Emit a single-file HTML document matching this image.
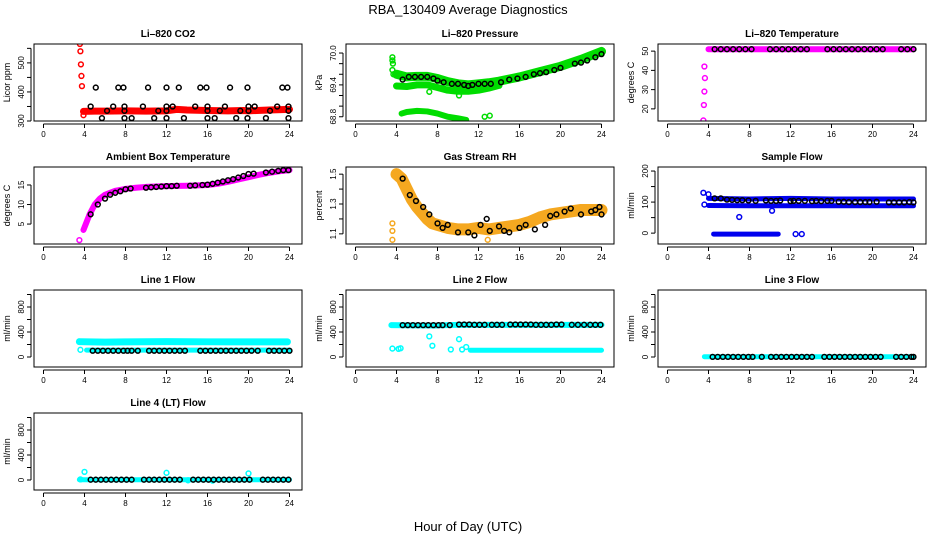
<!DOCTYPE html>
<html><head><meta charset="utf-8"><style>
html,body{margin:0;padding:0;background:#fff;}
svg{display:block;font-family:"Liberation Sans",sans-serif;}
</style></head><body>
<svg id="chart" width="936" height="540" viewBox="0 0 936 540">
<text x="468" y="14" text-anchor="middle" font-size="13">RBA_130409  Average Diagnostics</text>
<text x="468" y="531" text-anchor="middle" font-size="13">Hour of Day (UTC)</text>
</svg>
<script>
// ---- data arrays ----
const xTicks = [0,4,8,12,16,20,24];
// CO2
const co2BandT = [3.9,5,6,8,10,12,13,14,16,18,19.5,20,22,24];
const co2BandV = [333,334,334,335,334,335,340,338,336,335,336,335,338,340];
const co2OutT = [3.55,3.6,3.65,3.7,3.75,3.9];
const co2OutV = [565,540,495,455,420,320];
const co2BlkT = [5.1,7.3,7.8,10.2,12.0,13.2,15.3,15.9,18.2,19.9,23.3,23.8,4.6,6.8,7.9,9.7,12.0,12.6,14.8,16.0,17.7,20.0,20.6,22.8,23.9,6.2,7.9,11.2,12.0,16.0,17.2,19.2,20.0,22.1,23.9,5.7,7.9,8.6,10.8,12.0,13.7,16.0,16.7,18.8,19.9,21.7,23.9];
const co2BlkV = [415,415,415,415,415,415,415,415,415,415,415,415,350,350,350,350,350,350,350,350,350,350,350,350,350,335,335,335,335,335,335,335,335,335,335,310,310,310,310,310,310,310,310,310,310,310,310];
// Pressure
const pUpT = [4,5,6,7,8,9,10,11,12,13,14,16,18,20,22,24];
const pUpV = [69.6,69.55,69.56,69.56,69.52,69.46,69.42,69.4,69.42,69.44,69.47,69.55,69.65,69.75,69.88,70.03];
const pLoT = [4,5,6,7,8,9,10,11,12,13,14];
const pLoV = [69.38,69.37,69.4,69.4,69.35,69.3,69.28,69.28,69.3,69.34,69.39];
const pLowT = [4.5,5,6,7,8,9,10,10.8];
const pLowV = [68.86,68.89,68.91,68.9,68.86,68.8,68.77,68.74];
const pOutT = [3.6,3.6,3.65,3.6,3.7,7.2,10.1,12.6,13.1];
const pOutV = [69.92,69.86,69.8,69.68,69.6,69.27,69.2,68.8,68.82];
const pBlkT = [4.6,5.2,5.8,6.4,7,7.6,8,8.6,9.4,10,10.6,11,11.4,12,12.6,13.2,14.2,15,15.8,16.6,17.4,18,18.6,19.4,20,21.4,22,22.6,23.4,24];
const pBlkV = [69.5,69.55,69.55,69.55,69.55,69.52,69.48,69.45,69.42,69.42,69.4,69.38,69.4,69.42,69.42,69.42,69.45,69.5,69.52,69.55,69.6,69.62,69.64,69.68,69.72,69.8,69.82,69.86,69.92,69.98];
// Li-820 temperature
const tBandT = [4,24];
const tBandV = [51,51];
const tOutT = [3.6,3.65,3.6,3.55,3.5];
const tOutV = [42,36,29,22,14];
const tBlkT = [4.6,5.2,5.8,6.4,7,7.6,8.2,10,10.6,11.2,11.8,12.4,13,13.6,15.6,16.2,16.8,17.4,18,18.6,19.2,19.8,20.4,21,22.8,23.4,24];
const tBlkV = [51,51,51,51,51,51,51,51,51,51,51,51,51,51,51,51,51,51,51,51,51,51,51,51,51,51,51];
// Ambient box temperature
const aBandT = [3.9,4.2,4.5,5,5.5,6,7,8,9,10,12,14,16,17,18,19,20,21,22,23,24];
const aBandV = [3.5,5.5,7.5,10,11.5,12.5,13.5,14,14.3,14.5,14.7,14.8,15,15.3,15.8,16.4,17,17.6,18.1,18.5,18.8];
const aOutT = [3.5];
const aOutV = [0.9];
const aBlkT = [4.6,5.3,6,6.5,7,7.5,8,8.5,10,10.5,11,11.5,12,12.5,13,14.3,14.8,15.5,16,16.5,17,17.5,18,18.5,19,19.5,20,20.5,21.7,22.3,22.9,23.4,23.9];
const aBlkV = [7.5,10,11.5,12.5,13,13.4,13.9,14.1,14.3,14.4,14.5,14.6,14.7,14.7,14.8,14.8,14.9,15,15.1,15.3,15.6,15.9,16.2,16.5,16.9,17.3,17.8,17.9,18.2,18.4,18.6,18.8,18.8];
// Gas stream RH
const rhBandT = [4,4.5,5,5.5,6,6.5,7,7.5,8,9,10,11,12,13,14,15,16,17,18,19,20,21,22,23,24];
const rhBandV = [1.5,1.47,1.4,1.33,1.28,1.24,1.2,1.17,1.16,1.14,1.13,1.13,1.14,1.13,1.14,1.15,1.16,1.18,1.21,1.23,1.24,1.25,1.26,1.26,1.26];
const rhOutT = [3.6,3.6,3.6,12.9];
const rhOutV = [1.17,1.12,1.06,1.06];
const rhBlkT = [4.6,5.3,5.9,6.6,7.2,8,8.5,9,10,11,11.6,12.2,12.8,13.1,14,14.5,15,16,16.6,17.5,18.5,19,19.6,20.4,21,22,23,23.4,23.8,24];
const rhBlkV = [1.47,1.36,1.32,1.28,1.23,1.17,1.14,1.16,1.11,1.11,1.09,1.16,1.2,1.12,1.15,1.12,1.11,1.14,1.16,1.13,1.16,1.22,1.23,1.25,1.27,1.23,1.25,1.26,1.28,1.23];
// Sample flow
const sfHiT = [4,8,12,16,20,24];
const sfHiV = [112,110,112,110,110,110];
const sfLoT = [4,8,12,16,20,24];
const sfLoV = [89,88,88,88,88,88];
const sfZeroT = [4.5,10.8];
const sfZeroV = [-3,-3];
const sfOutT = [3.5,3.6,4,12.5,13.1,7,10.2];
const sfOutV = [130,92,125,-3,-3,52,72];
const sfBlkT = [4.6,5.2,5.8,6.3,6.8,7.3,7.9,8.6,9.6,10.1,10.6,11,12,12.3,12.8,13.4,14.1,14.5,15,15.6,16,16.7,17.2,17.7,18.3,18.8,19.3,19.7,20.4,21.6,22.1,22.6,23.1,23.6,24];
const sfBlkV = [112,112,108,107,106,106,105,104,105,104,104,105,103,104,104,104,103,104,103,104,104,101,101,100,100,100,100,100,101,99,99,99,99,100,99];
// Line 1 flow
const l1BandT = [3.5,6,8,10,12,14,16,18,20,22,23.8];
const l1BandV = [245,238,242,244,246,244,243,243,242,242,242];
const l1LowT = [4.2,24];
const l1LowV = [110,110];
const l1OutT = [3.6];
const l1OutV = [115];
const l1BlkT = [4.8,5.3,5.8,6.3,6.8,7.3,7.8,8.2,8.6,9.2,10.3,10.8,11.3,11.8,12.3,12.8,13.3,13.8,15.3,15.8,16.3,16.8,17.3,17.8,18.3,18.8,19.3,19.8,20.3,20.9,22,22.5,23,23.5,24];
const l1BlkV = [100,100,100,100,100,100,100,100,100,100,100,100,100,100,100,100,100,100,100,100,100,100,100,100,100,100,100,100,100,100,100,100,100,100,100];
// Line 2 flow
const l2BandT = [3.5,6,8,10,12,14,16,18,20,22,24];
const l2BandV = [510,505,505,515,515,515,515,515,515,515,515];
const l2LowT = [11.2,24];
const l2LowV = [108,108];
const l2OutT = [3.6,4.2,4.4,7.2,7.5,9.3,10.1,10.4,10.8];
const l2OutV = [135,130,140,330,180,120,285,120,160];
const l2BlkT = [4.6,5.1,5.6,6.1,6.6,7.1,7.6,8.1,8.5,9.2,10.1,10.6,11.1,11.6,12.1,12.6,13.3,13.8,14.3,15.1,15.6,16.1,16.6,17.1,17.6,18.1,18.6,19.1,19.6,20.1,21.1,21.7,22.3,22.9,23.4,23.9];
const l2BlkV = [510,510,510,510,510,510,510,510,510,510,520,520,520,515,515,515,515,515,515,520,520,520,520,520,515,515,515,515,520,520,515,515,515,515,515,515];
// Line 3 flow
const l3BandT = [3.6,24];
const l3BandV = [5,5];
const l3BlkT = [4.4,4.9,5.4,5.9,6.4,6.9,7.4,7.9,8.3,9.2,10.1,10.6,11.1,11.6,12.1,12.6,13.1,13.6,14.1,15.3,15.8,16.3,16.8,17.3,17.8,18.3,18.8,19.3,19.8,20.3,20.8,22.3,22.8,23.3,23.8,24];
const l3BlkV = [2,2,2,2,2,2,2,2,2,2,2,2,2,2,2,2,2,2,2,2,2,2,2,2,2,2,2,2,2,2,2,2,2,2,2,2];
// Line 4 flow
const l4BandT = [3.5,24];
const l4BandV = [5,5];
const l4OutT = [3.6,4.0,12.0,20.0,14.1,16.5];
const l4OutV = [10,130,115,105,-5,-10];
const l4BlkT = [4.6,5.1,5.6,6.1,6.6,7.1,7.6,8.1,8.6,9.8,10.3,10.8,11.3,11.8,12.3,12.8,13.3,14.6,15.1,15.6,16.1,16.6,17.1,17.6,18.1,18.6,19.1,19.6,20.1,21.4,21.9,22.4,22.9,23.4,23.9];
const l4BlkV = [5,5,5,5,5,5,5,5,5,5,5,5,5,5,5,5,5,5,5,5,5,5,5,5,5,5,5,5,5,5,5,5,5,5,5];

const svg = document.getElementById('chart');
const NS = 'http://www.w3.org/2000/svg';
function mk(tag, attrs, parent){ const e=document.createElementNS(NS,tag); for(const k in attrs) e.setAttribute(k,attrs[k]); (parent||svg).appendChild(e); return e; }

function panel(cfg){
  const L = 34 + 312*cfg.col, T = 44 + 123*cfg.row, W = 268, H = 77;
  const g = mk('g',{});
  
  
  const X = t => L + 9.5 + t*10.25;
  const Y = v => T + H - (v - cfg.ymin)/(cfg.ymax - cfg.ymin)*H;
  const ttl = mk('text',{x:L+W/2,y:T-7,'text-anchor':'middle','font-size':10,'font-weight':'bold'},g);
  ttl.textContent = cfg.title;
  
  
  const yl = mk('text',{x:0,y:0,'text-anchor':'middle','font-size':9,transform:`translate(${L-24},${T+H/2}) rotate(-90)`},g);
  yl.textContent = cfg.ylab;
  
  
  mk('line',{x1:X(0),x2:X(24),y1:T+H+3,y2:T+H+3,stroke:'#000'},g);
  xTicks.forEach(t=>{
    mk('line',{x1:X(t),x2:X(t),y1:T+H+3,y2:T+H+7,stroke:'#000'},g);
    const tx = mk('text',{x:X(t),y:T+H+16,'text-anchor':'middle','font-size':8},g);
    tx.textContent = t;
    
    
  });
  const yt0 = cfg.yticks[0], yt1 = cfg.yticks[cfg.yticks.length-1];
  mk('line',{x1:L-3,x2:L-3,y1:Y(yt0),y2:Y(yt1),stroke:'#000'},g);
  cfg.yticks.forEach(v=>{ mk('line',{x1:L-7,x2:L-3,y1:Y(v),y2:Y(v),stroke:'#000'},g); });
  cfg.ylabels.forEach(v=>{
    const ty = mk('text',{x:0,y:0,'text-anchor':'middle','font-size':8,transform:`translate(${L-10},${Y(v)}) rotate(-90)`},g);
    ty.textContent = v;
    
    
  });
  const cid = 'c'+cfg.row+cfg.col;
  const cp = mk('clipPath',{id:cid},g); mk('rect',{x:L,y:T,width:W,height:H},cp);
  const pg = mk('g',{'clip-path':`url(#${cid})`},g);
  (cfg.bands||[]).forEach(b=>{
    const pts = b.t.map((t,i)=>X(t)+','+Y(b.v[i])).join(' ');
    const pl = mk('polyline',{points:pts,fill:'none',stroke:b.color,'stroke-width':b.w,'stroke-linecap':'round','stroke-linejoin':'round'},pg);
    
    
  });
  (cfg.points||[]).forEach(p=>{
    p.t.forEach((t,i)=>{
      const c = mk('circle',{cx:X(t),cy:Y(p.v[i]),r:2.4,fill:'none',stroke:p.color,'stroke-width':1.5},pg);
      
      
    });
  });
  const box = mk('rect',{x:L,y:T,width:W,height:H,fill:'none',stroke:'#000'},g);
  
  
}
const flowTicks=[0,200,400,600,800,1000], flowLabels=[0,400,800];
panel({name:'co2-panel',row:0,col:0,title:'Li–820 CO2',ylab:'Licor ppm',ymin:300,ymax:565,yticks:[300,350,400,450,500,550],ylabels:[300,400,500],
  bands:[{t:co2BandT,v:co2BandV,color:'#ff0000',w:7}],points:[{t:co2OutT,v:co2OutV,color:'#ff0000'},{t:co2BlkT,v:co2BlkV,color:'#000'}]});
panel({name:'pressure-panel',row:0,col:1,title:'Li–820 Pressure',ylab:'kPa',ymin:68.72,ymax:70.17,yticks:[68.8,69.0,69.2,69.4,69.6,69.8,70.0],ylabels:['68.8','69.4','70.0'],
  bands:[{t:pUpT,v:pUpV,color:'#00dd00',w:9},{t:pLoT,v:pLoV,color:'#00dd00',w:7},{t:pLowT,v:pLowV,color:'#00dd00',w:6}],
  points:[{t:pOutT,v:pOutV,color:'#00dd00'},{t:pBlkT,v:pBlkV,color:'#000'}]});
panel({name:'li820-temperature-panel',row:0,col:2,title:'Li–820 Temperature',ylab:'degrees C',ymin:13.7,ymax:53.7,yticks:[20,30,40,50],ylabels:[20,30,40,50],
  bands:[{t:tBandT,v:tBandV,color:'#ff00ff',w:6}],points:[{t:tOutT,v:tOutV,color:'#ff00ff'},{t:tBlkT,v:tBlkV,color:'#000'}]});
panel({name:'ambient-temperature-panel',row:1,col:0,title:'Ambient Box Temperature',ylab:'degrees C',ymin:-0.1,ymax:19.6,yticks:[5,10,15],ylabels:[5,10,15],
  bands:[{t:aBandT,v:aBandV,color:'#ff00ff',w:6}],points:[{t:aOutT,v:aOutV,color:'#ff00ff'},{t:aBlkT,v:aBlkV,color:'#000'}]});
panel({name:'gas-rh-panel',row:1,col:1,title:'Gas Stream RH',ylab:'percent',ymin:1.032,ymax:1.548,yticks:[1.1,1.2,1.3,1.4,1.5],ylabels:['1.1','1.3','1.5'],
  bands:[{t:rhBandT,v:rhBandV,color:'#f5a820',w:12}],points:[{t:rhOutT,v:rhOutV,color:'#f5a820'},{t:rhBlkT,v:rhBlkV,color:'#000'}]});
panel({name:'sample-flow-panel',row:1,col:2,title:'Sample Flow',ylab:'ml/min',ymin:-35,ymax:213,yticks:[0,50,100,150,200],ylabels:[0,100,200],
  bands:[{t:sfHiT,v:sfHiV,color:'#0000ee',w:5},{t:sfLoT,v:sfLoV,color:'#0000ee',w:5},{t:sfZeroT,v:sfZeroV,color:'#0000ee',w:5}],
  points:[{t:sfOutT,v:sfOutV,color:'#0000ee'},{t:sfBlkT,v:sfBlkV,color:'#000'}]});
panel({name:'line1-flow-panel',row:2,col:0,title:'Line 1 Flow',ylab:'ml/min',ymin:-160,ymax:1072,yticks:flowTicks,ylabels:flowLabels,
  bands:[{t:l1BandT,v:l1BandV,color:'#00ffff',w:7},{t:l1LowT,v:l1LowV,color:'#00ffff',w:5}],points:[{t:l1OutT,v:l1OutV,color:'#00ffff'},{t:l1BlkT,v:l1BlkV,color:'#000'}]});
panel({name:'line2-flow-panel',row:2,col:1,title:'Line 2 Flow',ylab:'ml/min',ymin:-160,ymax:1072,yticks:flowTicks,ylabels:flowLabels,
  bands:[{t:l2BandT,v:l2BandV,color:'#00ffff',w:6},{t:l2LowT,v:l2LowV,color:'#00ffff',w:5}],points:[{t:l2OutT,v:l2OutV,color:'#00ffff'},{t:l2BlkT,v:l2BlkV,color:'#000'}]});
panel({name:'line3-flow-panel',row:2,col:2,title:'Line 3 Flow',ylab:'ml/min',ymin:-160,ymax:1072,yticks:flowTicks,ylabels:flowLabels,
  bands:[{t:l3BandT,v:l3BandV,color:'#00ffff',w:5}],points:[{t:l3BlkT,v:l3BlkV,color:'#000'}]});
panel({name:'line4-flow-panel',row:3,col:0,title:'Line 4 (LT) Flow',ylab:'ml/min',ymin:-160,ymax:1072,yticks:flowTicks,ylabels:flowLabels,
  bands:[{t:l4BandT,v:l4BandV,color:'#00ffff',w:5}],points:[{t:l4OutT,v:l4OutV,color:'#00ffff'},{t:l4BlkT,v:l4BlkV,color:'#000'}]});
</script>
</body></html>
